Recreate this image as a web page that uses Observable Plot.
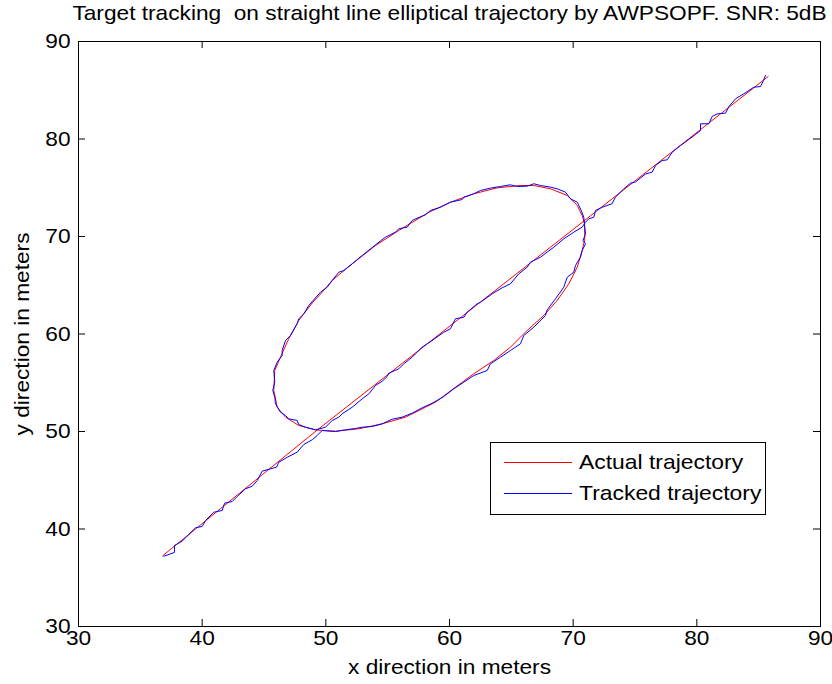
<!DOCTYPE html>
<html>
<head>
<meta charset="utf-8">
<script src="https://cdn.jsdelivr.net/npm/d3@7"></script>
<script src="https://cdn.jsdelivr.net/npm/@observablehq/plot@0.6"></script>
<style>
  html, body { margin: 0; padding: 0; background: #fff; }
  #wrap { position: relative; width: 832px; height: 684px; font-family: "Liberation Sans", Arial, sans-serif; }
  #wrap svg text { white-space: pre; }
  #legend { position: absolute; left: 490px; top: 442px; width: 274px; height: 71px; border: 1px solid #000; background: #fff; }
  .lg-line { position: absolute; left: 13px; width: 68px; height: 1px; }
  .lg-text { position: absolute; left: 88px; font-size: 21px; line-height: 21px; color: #000; white-space: nowrap; transform: scaleX(1.09); transform-origin: 0 50%; }
</style>
</head>
<body>
<div id="wrap"></div>
<script>
// ---- text ----
const titleText = "Target tracking  on straight line elliptical trajectory by AWPSOPF. SNR: 5dB";
const xLabel = "x direction in meters";
const yLabel = "y direction in meters";
const seriesNames = ["Actual trajectory", "Tracked trajectory"];
const seriesColors = ["#ff0000", "#0000ff"];

// ---- ticks ----
const xTicks = [30, 40, 50, 60, 70, 80, 90];
const yTicks = [30, 40, 50, 60, 70, 80, 90];

// ---- actual trajectory (red) ----
const actualX = [36.8, 49.3,
  50.78, 52.67, 54.56, 56.44, 58.06, 58.87, 60.48, 61.96, 63.58, 64.93, 66.28, 67.62, 68.71, 69.65,
  70.33, 70.73, 70.94, 70.92, 70.73, 70.33, 69.52, 68.17, 66.82, 65.74, 63.86, 61.96, 60.08, 58.3,
  55.9, 54.02, 52.13, 50.51, 49.71, 48.96, 48.22, 47.81, 47.0, 46.33, 45.87, 45.79, 46.07, 46.74,
  47.81, 49.16, 49.3,
  85.77];
const actualY = [37.25, 50.15,
  50.03, 50.28, 50.79, 51.47, 52.49, 53.01, 54.54, 55.92, 57.28, 58.65, 60.36, 61.9, 63.44, 65.15,
  66.85, 68.56, 69.76, 71.3, 72.15, 73.18, 74.21, 74.89, 75.23, 75.23, 74.99, 74.38, 73.52, 72.46,
  70.62, 69.08, 67.2, 65.49, 64.29, 63.28, 62.07, 61.38, 59.51, 57.62, 56.26, 54.21, 52.49, 51.47,
  50.62, 50.17, 50.15,
  86.41];

// ---- tracked trajectory (blue) ----
const trackedX = [
  36.9, 37.76, 37.76, 38.38, 38.92, 39.46, 40.0, 40.27, 40.94, 41.62, 41.81, 42.43, 42.83, 43.5,
  44.05, 44.45, 44.85, 45.53, 46.01, 46.2, 46.88, 47.68, 48.22, 48.9, 49.3, 49.7,
  50.78, 51.59, 52.4, 52.94, 53.75, 54.56, 55.37, 56.17, 56.98, 57.79, 58.6, 59.5, 60.35,
  61.16, 61.96, 63.05, 63.31, 64.12, 64.93, 65.74, 66.01, 66.82, 67.76, 67.9, 68.57, 69.24, 69.52,
  70.05, 70.19, 70.59, 70.73, 71.0, 70.8, 71.0, 70.92, 70.86, 70.65, 70.33, 69.78, 69.38, 68.71,
  68.17, 67.36, 66.82, 66.28, 65.47, 64.93, 64.12, 63.31, 62.51, 61.96, 61.16, 61.02, 60.08, 59.27,
  58.46, 58.06, 57.39, 56.98, 56.58, 55.9, 55.63, 54.82, 54.02, 52.94, 52.13, 51.45, 51.05, 50.51,
  50.11, 49.57, 48.9, 48.62, 48.22, 47.81, 47.68, 47.14, 46.74, 46.47, 46.47, 46.2, 46.07, 45.79,
  45.87, 45.71, 45.87, 45.93, 46.33, 46.74, 47.0, 47.68, 47.81, 48.35, 49.16, 49.7,
  49.97, 50.51, 51.05, 51.32, 52.13, 52.94, 53.48, 54.02, 54.56, 54.96, 55.09, 55.9, 56.3, 56.98,
  57.25, 57.79, 58.5, 59.54, 60.08, 60.48, 61.16, 61.43, 62.24, 62.51, 63.45, 64.26, 64.93, 65.6,
  66.28, 66.55, 67.36, 67.9, 68.43, 69.24, 70.05, 70.73, 71.0, 71.27, 71.67, 71.81, 72.35, 73.15,
  73.42, 74.09, 74.64, 75.04, 75.85, 76.39, 76.66, 77.2, 77.6, 78.01, 78.68, 79.35, 79.89, 80.3,
  80.3, 80.97, 81.24, 81.65, 82.32, 82.59, 83.13, 83.8, 84.61, 85.15, 85.36, 85.55];
const trackedY = [
  37.2, 37.6, 38.31, 38.75, 39.44, 40.12, 40.26, 40.87, 41.72, 41.9, 42.65, 42.82, 43.33, 44.12,
  44.39, 44.97, 45.93, 46.17, 46.34, 46.85, 47.36, 47.88, 48.67, 49.15, 49.59, 50.1,
  50.0, 50.17, 50.31, 50.44, 50.51, 50.79, 51.26, 51.47, 51.88, 52.43, 52.9, 53.55, 54.38,
  55.06, 55.74, 56.26, 56.94, 57.62, 58.31, 59.0, 59.85, 60.7, 61.9, 62.48, 63.61, 64.8, 65.82,
  66.34, 67.03, 67.88, 68.56, 69.25, 69.59, 70.28, 71.13, 71.98, 72.67, 73.52, 73.87, 74.55, 74.89,
  75.06, 75.23, 75.41, 75.16, 75.13, 75.3, 75.13, 74.96, 74.72, 74.38, 74.03, 73.79, 73.52, 73.0,
  72.67, 72.23, 71.88, 71.64, 70.96, 70.79, 70.44, 69.93, 69.15, 68.05, 67.2, 66.51, 66.34, 65.49,
  64.8, 64.29, 63.33, 62.92, 62.07, 61.56, 61.05, 59.85, 59.33, 58.31, 57.79, 57.35, 57.11, 56.26,
  55.06, 54.21, 53.52, 52.84, 51.98, 51.64, 51.3, 51.13, 50.72, 50.44, 50.17, 50.34,
  50.44, 51.13, 51.47, 51.82, 52.49, 53.35, 53.87, 54.72, 55.16, 55.64, 55.98, 56.43, 56.94, 57.62,
  57.97, 58.65, 59.25, 60.18, 60.53, 61.56, 61.72, 62.24, 63.1, 63.26, 64.12, 64.74, 65.15, 66.17,
  66.85, 67.37, 67.88, 68.4, 68.9, 69.76, 70.44, 70.96, 71.47, 71.82, 71.98, 72.67, 73.0, 73.36,
  74.04, 74.89, 75.48, 75.59, 76.41, 76.6, 77.28, 77.79, 77.86, 78.65, 79.33, 79.95, 80.46, 80.87,
  81.56, 81.56, 82.31, 82.58, 82.65, 83.33, 84.12, 84.64, 85.31, 85.38, 85.93, 86.51];

// ---- layout ----
const W = 832, H = 684;
const mL = 78, mR = 12, mT = 41, mB = 58;
const innerW = W - mL - mR, innerH = H - mT - mB;
const tickLen = 7;
const fs = 21;
const stretch = 1.08;

const idxA = d3.range(actualX.length);
const idxT = d3.range(trackedX.length);

const chart = Plot.plot({
  width: W, height: H,
  marginLeft: mL, marginRight: mR, marginTop: mT, marginBottom: mB,
  style: { fontFamily: "Liberation Sans, Arial, sans-serif", fontSize: fs + "px", background: "#fff", color: "#000", overflow: "visible" },
  x: { domain: [xTicks[0], xTicks[xTicks.length - 1]] },
  y: { domain: [yTicks[0], yTicks[yTicks.length - 1]] },
  marks: [
    Plot.line(idxA, { x: i => actualX[i], y: i => actualY[i], stroke: seriesColors[0], strokeWidth: 1 }),
    Plot.line(idxT, { x: i => trackedX[i], y: i => trackedY[i], stroke: seriesColors[1], strokeWidth: 1 }),
    Plot.frame({ stroke: "#000", strokeWidth: 1 }),
    Plot.tickX(xTicks, { x: d => d, stroke: "#000", insetTop: innerH - tickLen }),
    Plot.tickX(xTicks, { x: d => d, stroke: "#000", insetBottom: innerH - tickLen }),
    Plot.tickY(yTicks, { y: d => d, stroke: "#000", insetRight: innerW - tickLen }),
    Plot.tickY(yTicks, { y: d => d, stroke: "#000", insetLeft: innerW - tickLen }),
    Plot.axisX({ ticks: xTicks, tickSize: 0, tickPadding: 4, label: null, fontSize: fs }),
    Plot.axisY({ ticks: yTicks, tickSize: 0, tickPadding: 8, label: null, fontSize: fs }),
    Plot.text([titleText], { frameAnchor: "top", dy: -28, text: d => d, fontSize: fs, textAnchor: "middle", lineAnchor: "middle" }),
    Plot.text([xLabel], { frameAnchor: "bottom", dy: 41, text: d => d, fontSize: fs, textAnchor: "middle", lineAnchor: "middle" }),
    Plot.text([yLabel], { frameAnchor: "left", dx: -56, text: d => d, fontSize: fs, rotate: -90, textAnchor: "middle", lineAnchor: "middle" })
  ]
});

const wrap = document.getElementById("wrap");
wrap.appendChild(chart);

// widen glyphs slightly to match the reference's wider lettering
chart.querySelectorAll("text").forEach(t => {
  const len = t.getComputedTextLength();
  if (len > 0) {
    t.setAttribute("textLength", (len * stretch).toFixed(2));
    t.setAttribute("lengthAdjust", "spacingAndGlyphs");
  }
});

// legend
const legend = document.createElement("div");
legend.id = "legend";
const rowTops = [19, 50];
seriesNames.forEach((name, k) => {
  const ln = document.createElement("div");
  ln.className = "lg-line";
  ln.style.top = rowTops[k] + "px";
  ln.style.background = seriesColors[k];
  legend.appendChild(ln);
  const tx = document.createElement("div");
  tx.className = "lg-text";
  tx.style.top = (rowTops[k] - 11) + "px";
  tx.textContent = name;
  legend.appendChild(tx);
});
wrap.appendChild(legend);
</script>
</body>
</html>
